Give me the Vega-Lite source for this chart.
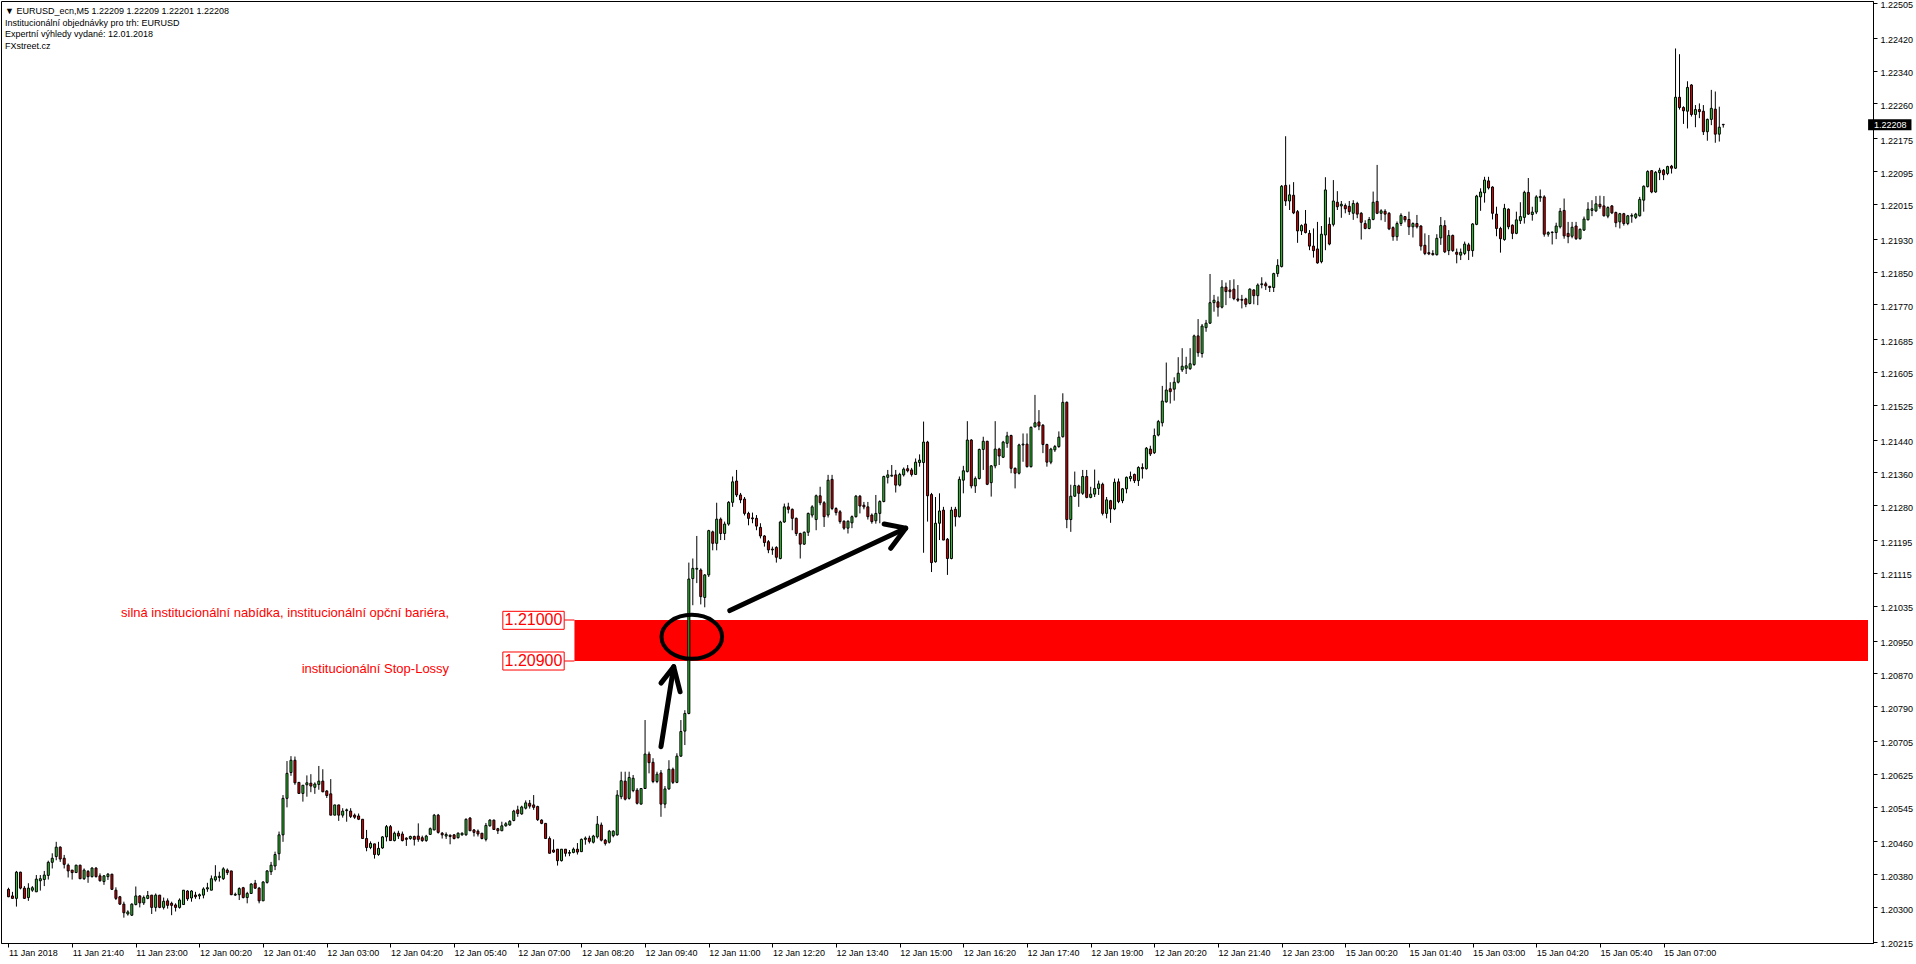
{
"$schema": "https://vega.github.io/schema/vega-lite/v6.json",
"width": 1872,
"height": 942,
"autosize": {"type": "none"},
"padding": {"left": 1, "top": 1, "right": 43, "bottom": 21},
"background": "white",
"title": {"text": ["▼ EURUSD_ecn,M5  1.22209 1.22209 1.22201 1.22208", "Institucionální objednávky pro trh: EURUSD", "Expertní výhledy vydané: 12.01.2018", "FXstreet.cz"], "anchor": "start", "frame": "group", "orient": "top", "baseline": "top", "offset": -50, "dx": 4, "fontSize": 9, "fontWeight": "normal", "font": "Liberation Sans", "color": "black", "lineHeight": 11.7},
"config": {"view": {"stroke": "black", "strokeWidth": 1}, "font": "Liberation Sans", "axis": {"labelOverlap": false, "labelFlush": false, "labelBound": false, "grid": false}},
"datasets": {
"bars": [
{"n":0,"o":1.20343,"h":1.20347,"l":1.20324,"c":1.20325},
{"n":1,"o":1.20327,"h":1.20337,"l":1.20321,"c":1.20321},
{"n":2,"o":1.20321,"h":1.20388,"l":1.20301,"c":1.20385},
{"n":3,"o":1.20385,"h":1.20386,"l":1.20343,"c":1.20346},
{"n":4,"o":1.20346,"h":1.20351,"l":1.20320,"c":1.20321},
{"n":5,"o":1.20323,"h":1.20358,"l":1.20315,"c":1.20346},
{"n":6,"o":1.20341,"h":1.20351,"l":1.20337,"c":1.20347},
{"n":7,"o":1.20337,"h":1.20378,"l":1.20337,"c":1.20368},
{"n":8,"o":1.20364,"h":1.20378,"l":1.20340,"c":1.20369},
{"n":9,"o":1.20367,"h":1.20388,"l":1.20351,"c":1.20378},
{"n":10,"o":1.20377,"h":1.20413,"l":1.20367,"c":1.20409},
{"n":11,"o":1.20409,"h":1.20431,"l":1.20394,"c":1.20419},
{"n":12,"o":1.20423,"h":1.20459,"l":1.20414,"c":1.20446},
{"n":13,"o":1.20446,"h":1.20448,"l":1.20410,"c":1.20417},
{"n":14,"o":1.20419,"h":1.20427,"l":1.20394,"c":1.20404},
{"n":15,"o":1.20402,"h":1.20406,"l":1.20372,"c":1.20388},
{"n":16,"o":1.20390,"h":1.20390,"l":1.20367,"c":1.20384},
{"n":17,"o":1.20384,"h":1.20403,"l":1.20383,"c":1.20402},
{"n":18,"o":1.20402,"h":1.20403,"l":1.20368,"c":1.20369},
{"n":19,"o":1.20369,"h":1.20394,"l":1.20366,"c":1.20390},
{"n":20,"o":1.20387,"h":1.20390,"l":1.20359,"c":1.20374},
{"n":21,"o":1.20374,"h":1.20397,"l":1.20372,"c":1.20395},
{"n":22,"o":1.20395,"h":1.20397,"l":1.20372,"c":1.20374},
{"n":23,"o":1.20376,"h":1.20382,"l":1.20362,"c":1.20364},
{"n":24,"o":1.20362,"h":1.20378,"l":1.20354,"c":1.20376},
{"n":25,"o":1.20374,"h":1.20383,"l":1.20366,"c":1.20380},
{"n":26,"o":1.20380,"h":1.20381,"l":1.20342,"c":1.20343},
{"n":27,"o":1.20341,"h":1.20348,"l":1.20317,"c":1.20321},
{"n":28,"o":1.20325,"h":1.20327,"l":1.20305,"c":1.20307},
{"n":29,"o":1.20307,"h":1.20313,"l":1.20274,"c":1.20286},
{"n":30,"o":1.20283,"h":1.20292,"l":1.20279,"c":1.20288},
{"n":31,"o":1.20280,"h":1.20309,"l":1.20278,"c":1.20307},
{"n":32,"o":1.20306,"h":1.20350,"l":1.20304,"c":1.20327},
{"n":33,"o":1.20327,"h":1.20329,"l":1.20299,"c":1.20310},
{"n":34,"o":1.20310,"h":1.20328,"l":1.20305,"c":1.20323},
{"n":35,"o":1.20321,"h":1.20339,"l":1.20319,"c":1.20328},
{"n":36,"o":1.20329,"h":1.20329,"l":1.20283,"c":1.20299},
{"n":37,"o":1.20299,"h":1.20333,"l":1.20289,"c":1.20329},
{"n":38,"o":1.20329,"h":1.20329,"l":1.20297,"c":1.20299},
{"n":39,"o":1.20299,"h":1.20323,"l":1.20294,"c":1.20314},
{"n":40,"o":1.20315,"h":1.20321,"l":1.20296,"c":1.20304},
{"n":41,"o":1.20309,"h":1.20313,"l":1.20280,"c":1.20304},
{"n":42,"o":1.20305,"h":1.20309,"l":1.20289,"c":1.20299},
{"n":43,"o":1.20299,"h":1.20321,"l":1.20296,"c":1.20317},
{"n":44,"o":1.20306,"h":1.20341,"l":1.20305,"c":1.20341},
{"n":45,"o":1.20339,"h":1.20341,"l":1.20315,"c":1.20320},
{"n":46,"o":1.20322,"h":1.20341,"l":1.20313,"c":1.20339},
{"n":47,"o":1.20329,"h":1.20337,"l":1.20320,"c":1.20325},
{"n":48,"o":1.20327,"h":1.20333,"l":1.20319,"c":1.20330},
{"n":49,"o":1.20329,"h":1.20348,"l":1.20321,"c":1.20344},
{"n":50,"o":1.20344,"h":1.20359,"l":1.20337,"c":1.20347},
{"n":51,"o":1.20341,"h":1.20377,"l":1.20341,"c":1.20369},
{"n":52,"o":1.20366,"h":1.20402,"l":1.20362,"c":1.20374},
{"n":53,"o":1.20372,"h":1.20386,"l":1.20362,"c":1.20375},
{"n":54,"o":1.20369,"h":1.20397,"l":1.20366,"c":1.20393},
{"n":55,"o":1.20390,"h":1.20394,"l":1.20378,"c":1.20384},
{"n":56,"o":1.20388,"h":1.20388,"l":1.20329,"c":1.20330},
{"n":57,"o":1.20329,"h":1.20335,"l":1.20327,"c":1.20331},
{"n":58,"o":1.20330,"h":1.20348,"l":1.20317,"c":1.20345},
{"n":59,"o":1.20347,"h":1.20349,"l":1.20321,"c":1.20323},
{"n":60,"o":1.20323,"h":1.20337,"l":1.20309,"c":1.20333},
{"n":61,"o":1.20333,"h":1.20358,"l":1.20333,"c":1.20356},
{"n":62,"o":1.20358,"h":1.20366,"l":1.20344,"c":1.20346},
{"n":63,"o":1.20346,"h":1.20349,"l":1.20309,"c":1.20315},
{"n":64,"o":1.20315,"h":1.20363,"l":1.20315,"c":1.20361},
{"n":65,"o":1.20360,"h":1.20390,"l":1.20357,"c":1.20388},
{"n":66,"o":1.20386,"h":1.20410,"l":1.20378,"c":1.20402},
{"n":67,"o":1.20400,"h":1.20435,"l":1.20390,"c":1.20428},
{"n":68,"o":1.20430,"h":1.20484,"l":1.20414,"c":1.20476},
{"n":69,"o":1.20476,"h":1.20573,"l":1.20459,"c":1.20565},
{"n":70,"o":1.20565,"h":1.20656,"l":1.20543,"c":1.20626},
{"n":71,"o":1.20628,"h":1.20668,"l":1.20620,"c":1.20658},
{"n":72,"o":1.20658,"h":1.20667,"l":1.20598,"c":1.20603},
{"n":73,"o":1.20604,"h":1.20604,"l":1.20577,"c":1.20577},
{"n":74,"o":1.20577,"h":1.20597,"l":1.20557,"c":1.20597},
{"n":75,"o":1.20598,"h":1.20621,"l":1.20569,"c":1.20603},
{"n":76,"o":1.20602,"h":1.20624,"l":1.20580,"c":1.20595},
{"n":77,"o":1.20592,"h":1.20604,"l":1.20576,"c":1.20600},
{"n":78,"o":1.20599,"h":1.20644,"l":1.20586,"c":1.20607},
{"n":79,"o":1.20607,"h":1.20636,"l":1.20580,"c":1.20581},
{"n":80,"o":1.20583,"h":1.20585,"l":1.20566,"c":1.20572},
{"n":81,"o":1.20576,"h":1.20612,"l":1.20524,"c":1.20524},
{"n":82,"o":1.20524,"h":1.20549,"l":1.20524,"c":1.20549},
{"n":83,"o":1.20549,"h":1.20549,"l":1.20510,"c":1.20524},
{"n":84,"o":1.20524,"h":1.20541,"l":1.20518,"c":1.20534},
{"n":85,"o":1.20535,"h":1.20540,"l":1.20508,"c":1.20537},
{"n":86,"o":1.20534,"h":1.20541,"l":1.20517,"c":1.20521},
{"n":87,"o":1.20524,"h":1.20528,"l":1.20515,"c":1.20519},
{"n":88,"o":1.20522,"h":1.20528,"l":1.20512,"c":1.20514},
{"n":89,"o":1.20514,"h":1.20514,"l":1.20467,"c":1.20467},
{"n":90,"o":1.20467,"h":1.20488,"l":1.20436,"c":1.20445},
{"n":91,"o":1.20445,"h":1.20460,"l":1.20441,"c":1.20455},
{"n":92,"o":1.20454,"h":1.20454,"l":1.20418,"c":1.20428},
{"n":93,"o":1.20428,"h":1.20459,"l":1.20425,"c":1.20443},
{"n":94,"o":1.20444,"h":1.20473,"l":1.20442,"c":1.20471},
{"n":95,"o":1.20471,"h":1.20500,"l":1.20460,"c":1.20496},
{"n":96,"o":1.20496,"h":1.20500,"l":1.20462,"c":1.20462},
{"n":97,"o":1.20462,"h":1.20484,"l":1.20460,"c":1.20480},
{"n":98,"o":1.20480,"h":1.20486,"l":1.20466,"c":1.20473},
{"n":99,"o":1.20478,"h":1.20484,"l":1.20460,"c":1.20462},
{"n":100,"o":1.20468,"h":1.20470,"l":1.20449,"c":1.20465},
{"n":101,"o":1.20467,"h":1.20474,"l":1.20464,"c":1.20472},
{"n":102,"o":1.20472,"h":1.20474,"l":1.20450,"c":1.20465},
{"n":103,"o":1.20473,"h":1.20504,"l":1.20459,"c":1.20465},
{"n":104,"o":1.20469,"h":1.20474,"l":1.20459,"c":1.20462},
{"n":105,"o":1.20462,"h":1.20476,"l":1.20459,"c":1.20473},
{"n":106,"o":1.20477,"h":1.20494,"l":1.20477,"c":1.20491},
{"n":107,"o":1.20488,"h":1.20527,"l":1.20487,"c":1.20524},
{"n":108,"o":1.20524,"h":1.20527,"l":1.20479,"c":1.20482},
{"n":109,"o":1.20480,"h":1.20483,"l":1.20467,"c":1.20476},
{"n":110,"o":1.20473,"h":1.20482,"l":1.20466,"c":1.20477},
{"n":111,"o":1.20475,"h":1.20477,"l":1.20453,"c":1.20472},
{"n":112,"o":1.20476,"h":1.20478,"l":1.20465,"c":1.20467},
{"n":113,"o":1.20469,"h":1.20482,"l":1.20467,"c":1.20480},
{"n":114,"o":1.20476,"h":1.20482,"l":1.20474,"c":1.20480},
{"n":115,"o":1.20476,"h":1.20516,"l":1.20474,"c":1.20514},
{"n":116,"o":1.20517,"h":1.20519,"l":1.20486,"c":1.20486},
{"n":117,"o":1.20488,"h":1.20490,"l":1.20472,"c":1.20482},
{"n":118,"o":1.20485,"h":1.20489,"l":1.20472,"c":1.20478},
{"n":119,"o":1.20480,"h":1.20480,"l":1.20465,"c":1.20467},
{"n":120,"o":1.20465,"h":1.20505,"l":1.20460,"c":1.20499},
{"n":121,"o":1.20498,"h":1.20514,"l":1.20496,"c":1.20512},
{"n":122,"o":1.20512,"h":1.20513,"l":1.20489,"c":1.20489},
{"n":123,"o":1.20491,"h":1.20493,"l":1.20478,"c":1.20486},
{"n":124,"o":1.20486,"h":1.20508,"l":1.20485,"c":1.20498},
{"n":125,"o":1.20498,"h":1.20507,"l":1.20496,"c":1.20503},
{"n":126,"o":1.20500,"h":1.20512,"l":1.20498,"c":1.20509},
{"n":127,"o":1.20511,"h":1.20537,"l":1.20509,"c":1.20534},
{"n":128,"o":1.20537,"h":1.20547,"l":1.20520,"c":1.20528},
{"n":129,"o":1.20527,"h":1.20547,"l":1.20525,"c":1.20544},
{"n":130,"o":1.20541,"h":1.20560,"l":1.20538,"c":1.20554},
{"n":131,"o":1.20553,"h":1.20561,"l":1.20540,"c":1.20546},
{"n":132,"o":1.20549,"h":1.20573,"l":1.20537,"c":1.20543},
{"n":133,"o":1.20545,"h":1.20547,"l":1.20510,"c":1.20513},
{"n":134,"o":1.20512,"h":1.20514,"l":1.20502,"c":1.20504},
{"n":135,"o":1.20504,"h":1.20504,"l":1.20467,"c":1.20467},
{"n":136,"o":1.20467,"h":1.20472,"l":1.20431,"c":1.20431},
{"n":137,"o":1.20439,"h":1.20465,"l":1.20432,"c":1.20434},
{"n":138,"o":1.20441,"h":1.20441,"l":1.20401,"c":1.20413},
{"n":139,"o":1.20413,"h":1.20441,"l":1.20411,"c":1.20441},
{"n":140,"o":1.20441,"h":1.20441,"l":1.20423,"c":1.20431},
{"n":141,"o":1.20431,"h":1.20439,"l":1.20424,"c":1.20433},
{"n":142,"o":1.20433,"h":1.20445,"l":1.20431,"c":1.20441},
{"n":143,"o":1.20441,"h":1.20456,"l":1.20428,"c":1.20434},
{"n":144,"o":1.20435,"h":1.20467,"l":1.20434,"c":1.20465},
{"n":145,"o":1.20465,"h":1.20472,"l":1.20452,"c":1.20468},
{"n":146,"o":1.20468,"h":1.20474,"l":1.20455,"c":1.20460},
{"n":147,"o":1.20458,"h":1.20476,"l":1.20455,"c":1.20473},
{"n":148,"o":1.20471,"h":1.20522,"l":1.20467,"c":1.20502},
{"n":149,"o":1.20500,"h":1.20506,"l":1.20460,"c":1.20463},
{"n":150,"o":1.20463,"h":1.20466,"l":1.20450,"c":1.20455},
{"n":151,"o":1.20458,"h":1.20488,"l":1.20455,"c":1.20485},
{"n":152,"o":1.20474,"h":1.20487,"l":1.20470,"c":1.20485},
{"n":153,"o":1.20476,"h":1.20585,"l":1.20474,"c":1.20573},
{"n":154,"o":1.20569,"h":1.20630,"l":1.20563,"c":1.20608},
{"n":155,"o":1.20607,"h":1.20630,"l":1.20560,"c":1.20563},
{"n":156,"o":1.20565,"h":1.20630,"l":1.20562,"c":1.20616},
{"n":157,"o":1.20584,"h":1.20622,"l":1.20580,"c":1.20614},
{"n":158,"o":1.20585,"h":1.20590,"l":1.20550,"c":1.20553},
{"n":159,"o":1.20551,"h":1.20590,"l":1.20550,"c":1.20589},
{"n":160,"o":1.20589,"h":1.20756,"l":1.20588,"c":1.20673},
{"n":161,"o":1.20673,"h":1.20679,"l":1.20626,"c":1.20652},
{"n":162,"o":1.20653,"h":1.20663,"l":1.20602,"c":1.20606},
{"n":163,"o":1.20606,"h":1.20630,"l":1.20602,"c":1.20624},
{"n":164,"o":1.20627,"h":1.20634,"l":1.20520,"c":1.20551},
{"n":165,"o":1.20551,"h":1.20595,"l":1.20541,"c":1.20588},
{"n":166,"o":1.20588,"h":1.20658,"l":1.20586,"c":1.20636},
{"n":167,"o":1.20636,"h":1.20640,"l":1.20600,"c":1.20604},
{"n":168,"o":1.20604,"h":1.20675,"l":1.20602,"c":1.20668},
{"n":169,"o":1.20668,"h":1.20756,"l":1.20666,"c":1.20728},
{"n":170,"o":1.20729,"h":1.20780,"l":1.20695,"c":1.20772},
{"n":171,"o":1.20772,"h":1.21140,"l":1.20770,"c":1.21100},
{"n":172,"o":1.21101,"h":1.21150,"l":1.21036,"c":1.21126},
{"n":173,"o":1.21124,"h":1.21205,"l":1.21090,"c":1.21126},
{"n":174,"o":1.21122,"h":1.21126,"l":1.21038,"c":1.21057},
{"n":175,"o":1.21055,"h":1.21112,"l":1.21031,"c":1.21110},
{"n":176,"o":1.21110,"h":1.21220,"l":1.21105,"c":1.21218},
{"n":177,"o":1.21215,"h":1.21218,"l":1.21170,"c":1.21187},
{"n":178,"o":1.21187,"h":1.21286,"l":1.21170,"c":1.21246},
{"n":179,"o":1.21246,"h":1.21250,"l":1.21195,"c":1.21211},
{"n":180,"o":1.21211,"h":1.21240,"l":1.21195,"c":1.21234},
{"n":181,"o":1.21234,"h":1.21290,"l":1.21230,"c":1.21287},
{"n":182,"o":1.21287,"h":1.21350,"l":1.21276,"c":1.21337},
{"n":183,"o":1.21339,"h":1.21366,"l":1.21300,"c":1.21305},
{"n":184,"o":1.21305,"h":1.21310,"l":1.21285,"c":1.21293},
{"n":185,"o":1.21295,"h":1.21300,"l":1.21255,"c":1.21260},
{"n":186,"o":1.21260,"h":1.21264,"l":1.21231,"c":1.21248},
{"n":187,"o":1.21249,"h":1.21262,"l":1.21236,"c":1.21247},
{"n":188,"o":1.21248,"h":1.21256,"l":1.21219,"c":1.21229},
{"n":189,"o":1.21226,"h":1.21236,"l":1.21199,"c":1.21205},
{"n":190,"o":1.21205,"h":1.21207,"l":1.21179,"c":1.21189},
{"n":191,"o":1.21191,"h":1.21195,"l":1.21163,"c":1.21171},
{"n":192,"o":1.21173,"h":1.21179,"l":1.21159,"c":1.21171},
{"n":193,"o":1.21177,"h":1.21180,"l":1.21140,"c":1.21153},
{"n":194,"o":1.21150,"h":1.21242,"l":1.21148,"c":1.21239},
{"n":195,"o":1.21239,"h":1.21284,"l":1.21237,"c":1.21276},
{"n":196,"o":1.21276,"h":1.21286,"l":1.21260,"c":1.21270},
{"n":197,"o":1.21270,"h":1.21272,"l":1.21219,"c":1.21248},
{"n":198,"o":1.21248,"h":1.21250,"l":1.21205,"c":1.21211},
{"n":199,"o":1.21211,"h":1.21213,"l":1.21150,"c":1.21185},
{"n":200,"o":1.21185,"h":1.21216,"l":1.21183,"c":1.21214},
{"n":201,"o":1.21214,"h":1.21262,"l":1.21205,"c":1.21260},
{"n":202,"o":1.21256,"h":1.21280,"l":1.21250,"c":1.21276},
{"n":203,"o":1.21245,"h":1.21306,"l":1.21219,"c":1.21303},
{"n":204,"o":1.21303,"h":1.21325,"l":1.21280,"c":1.21286},
{"n":205,"o":1.21286,"h":1.21290,"l":1.21227,"c":1.21252},
{"n":206,"o":1.21256,"h":1.21354,"l":1.21250,"c":1.21341},
{"n":207,"o":1.21343,"h":1.21354,"l":1.21268,"c":1.21272},
{"n":208,"o":1.21272,"h":1.21275,"l":1.21255,"c":1.21262},
{"n":209,"o":1.21264,"h":1.21268,"l":1.21235,"c":1.21240},
{"n":210,"o":1.21241,"h":1.21243,"l":1.21220,"c":1.21224},
{"n":211,"o":1.21224,"h":1.21243,"l":1.21211,"c":1.21241},
{"n":212,"o":1.21237,"h":1.21255,"l":1.21224,"c":1.21252},
{"n":213,"o":1.21252,"h":1.21305,"l":1.21250,"c":1.21302},
{"n":214,"o":1.21302,"h":1.21305,"l":1.21260,"c":1.21278},
{"n":215,"o":1.21280,"h":1.21288,"l":1.21270,"c":1.21276},
{"n":216,"o":1.21276,"h":1.21288,"l":1.21245,"c":1.21252},
{"n":217,"o":1.21256,"h":1.21260,"l":1.21235,"c":1.21240},
{"n":218,"o":1.21242,"h":1.21305,"l":1.21235,"c":1.21260},
{"n":219,"o":1.21260,"h":1.21292,"l":1.21236,"c":1.21289},
{"n":220,"o":1.21289,"h":1.21352,"l":1.21287,"c":1.21350},
{"n":221,"o":1.21348,"h":1.21366,"l":1.21333,"c":1.21354},
{"n":222,"o":1.21351,"h":1.21378,"l":1.21350,"c":1.21353},
{"n":223,"o":1.21354,"h":1.21366,"l":1.21311,"c":1.21329},
{"n":224,"o":1.21329,"h":1.21359,"l":1.21326,"c":1.21355},
{"n":225,"o":1.21354,"h":1.21372,"l":1.21350,"c":1.21368},
{"n":226,"o":1.21369,"h":1.21378,"l":1.21360,"c":1.21364},
{"n":227,"o":1.21366,"h":1.21371,"l":1.21350,"c":1.21355},
{"n":228,"o":1.21355,"h":1.21394,"l":1.21355,"c":1.21385},
{"n":229,"o":1.21384,"h":1.21404,"l":1.21374,"c":1.21390},
{"n":230,"o":1.21384,"h":1.21484,"l":1.21164,"c":1.21434},
{"n":231,"o":1.21434,"h":1.21437,"l":1.21240,"c":1.21303},
{"n":232,"o":1.21306,"h":1.21310,"l":1.21117,"c":1.21140},
{"n":233,"o":1.21142,"h":1.21300,"l":1.21140,"c":1.21236},
{"n":234,"o":1.21236,"h":1.21309,"l":1.21195,"c":1.21266},
{"n":235,"o":1.21268,"h":1.21276,"l":1.21195,"c":1.21195},
{"n":236,"o":1.21197,"h":1.21200,"l":1.21110,"c":1.21150},
{"n":237,"o":1.21150,"h":1.21276,"l":1.21148,"c":1.21268},
{"n":238,"o":1.21270,"h":1.21276,"l":1.21228,"c":1.21252},
{"n":239,"o":1.21252,"h":1.21350,"l":1.21250,"c":1.21343},
{"n":240,"o":1.21341,"h":1.21376,"l":1.21309,"c":1.21364},
{"n":241,"o":1.21362,"h":1.21485,"l":1.21360,"c":1.21439},
{"n":242,"o":1.21439,"h":1.21441,"l":1.21321,"c":1.21327},
{"n":243,"o":1.21327,"h":1.21350,"l":1.21310,"c":1.21345},
{"n":244,"o":1.21345,"h":1.21418,"l":1.21343,"c":1.21416},
{"n":245,"o":1.21416,"h":1.21447,"l":1.21366,"c":1.21436},
{"n":246,"o":1.21436,"h":1.21437,"l":1.21329,"c":1.21331},
{"n":247,"o":1.21335,"h":1.21378,"l":1.21301,"c":1.21376},
{"n":248,"o":1.21376,"h":1.21485,"l":1.21370,"c":1.21417},
{"n":249,"o":1.21417,"h":1.21420,"l":1.21378,"c":1.21400},
{"n":250,"o":1.21397,"h":1.21437,"l":1.21395,"c":1.21434},
{"n":251,"o":1.21431,"h":1.21459,"l":1.21420,"c":1.21449},
{"n":252,"o":1.21450,"h":1.21452,"l":1.21358,"c":1.21370},
{"n":253,"o":1.21370,"h":1.21372,"l":1.21321,"c":1.21358},
{"n":254,"o":1.21358,"h":1.21430,"l":1.21355,"c":1.21427},
{"n":255,"o":1.21427,"h":1.21455,"l":1.21386,"c":1.21429},
{"n":256,"o":1.21429,"h":1.21455,"l":1.21372,"c":1.21374},
{"n":257,"o":1.21374,"h":1.21472,"l":1.21372,"c":1.21470},
{"n":258,"o":1.21471,"h":1.21549,"l":1.21470,"c":1.21481},
{"n":259,"o":1.21483,"h":1.21512,"l":1.21463,"c":1.21473},
{"n":260,"o":1.21475,"h":1.21478,"l":1.21407,"c":1.21428},
{"n":261,"o":1.21428,"h":1.21430,"l":1.21374,"c":1.21385},
{"n":262,"o":1.21385,"h":1.21420,"l":1.21380,"c":1.21417},
{"n":263,"o":1.21415,"h":1.21427,"l":1.21410,"c":1.21423},
{"n":264,"o":1.21423,"h":1.21460,"l":1.21420,"c":1.21446},
{"n":265,"o":1.21447,"h":1.21553,"l":1.21445,"c":1.21531},
{"n":266,"o":1.21531,"h":1.21533,"l":1.21224,"c":1.21245},
{"n":267,"o":1.21245,"h":1.21330,"l":1.21215,"c":1.21302},
{"n":268,"o":1.21302,"h":1.21362,"l":1.21300,"c":1.21328},
{"n":269,"o":1.21327,"h":1.21330,"l":1.21276,"c":1.21309},
{"n":270,"o":1.21309,"h":1.21366,"l":1.21305,"c":1.21350},
{"n":271,"o":1.21350,"h":1.21366,"l":1.21297,"c":1.21299},
{"n":272,"o":1.21299,"h":1.21325,"l":1.21297,"c":1.21307},
{"n":273,"o":1.21307,"h":1.21367,"l":1.21300,"c":1.21321},
{"n":274,"o":1.21321,"h":1.21340,"l":1.21305,"c":1.21332},
{"n":275,"o":1.21331,"h":1.21335,"l":1.21255,"c":1.21260},
{"n":276,"o":1.21260,"h":1.21300,"l":1.21248,"c":1.21293},
{"n":277,"o":1.21291,"h":1.21293,"l":1.21237,"c":1.21271},
{"n":278,"o":1.21271,"h":1.21345,"l":1.21268,"c":1.21336},
{"n":279,"o":1.21337,"h":1.21345,"l":1.21285,"c":1.21289},
{"n":280,"o":1.21291,"h":1.21322,"l":1.21285,"c":1.21320},
{"n":281,"o":1.21320,"h":1.21350,"l":1.21309,"c":1.21348},
{"n":282,"o":1.21345,"h":1.21362,"l":1.21338,"c":1.21350},
{"n":283,"o":1.21355,"h":1.21357,"l":1.21334,"c":1.21340},
{"n":284,"o":1.21340,"h":1.21375,"l":1.21327,"c":1.21372},
{"n":285,"o":1.21372,"h":1.21382,"l":1.21345,"c":1.21369},
{"n":286,"o":1.21369,"h":1.21422,"l":1.21367,"c":1.21419},
{"n":287,"o":1.21417,"h":1.21425,"l":1.21400,"c":1.21405},
{"n":288,"o":1.21408,"h":1.21467,"l":1.21405,"c":1.21450},
{"n":289,"o":1.21451,"h":1.21488,"l":1.21448,"c":1.21484},
{"n":290,"o":1.21481,"h":1.21571,"l":1.21472,"c":1.21534},
{"n":291,"o":1.21532,"h":1.21628,"l":1.21530,"c":1.21561},
{"n":292,"o":1.21564,"h":1.21580,"l":1.21528,"c":1.21557},
{"n":293,"o":1.21563,"h":1.21592,"l":1.21535,"c":1.21580},
{"n":294,"o":1.21580,"h":1.21641,"l":1.21577,"c":1.21602},
{"n":295,"o":1.21610,"h":1.21663,"l":1.21605,"c":1.21619},
{"n":296,"o":1.21614,"h":1.21642,"l":1.21600,"c":1.21620},
{"n":297,"o":1.21613,"h":1.21663,"l":1.21610,"c":1.21625},
{"n":298,"o":1.21623,"h":1.21696,"l":1.21620,"c":1.21693},
{"n":299,"o":1.21693,"h":1.21734,"l":1.21642,"c":1.21652},
{"n":300,"o":1.21650,"h":1.21722,"l":1.21640,"c":1.21717},
{"n":301,"o":1.21713,"h":1.21732,"l":1.21703,"c":1.21724},
{"n":302,"o":1.21724,"h":1.21844,"l":1.21722,"c":1.21774},
{"n":303,"o":1.21774,"h":1.21793,"l":1.21752,"c":1.21780},
{"n":304,"o":1.21776,"h":1.21789,"l":1.21740,"c":1.21763},
{"n":305,"o":1.21763,"h":1.21829,"l":1.21760,"c":1.21812},
{"n":306,"o":1.21812,"h":1.21823,"l":1.21768,"c":1.21801},
{"n":307,"o":1.21805,"h":1.21829,"l":1.21785,"c":1.21801},
{"n":308,"o":1.21807,"h":1.21831,"l":1.21780,"c":1.21784},
{"n":309,"o":1.21783,"h":1.21817,"l":1.21776,"c":1.21780},
{"n":310,"o":1.21782,"h":1.21793,"l":1.21760,"c":1.21780},
{"n":311,"o":1.21783,"h":1.21786,"l":1.21763,"c":1.21770},
{"n":312,"o":1.21772,"h":1.21809,"l":1.21770,"c":1.21807},
{"n":313,"o":1.21805,"h":1.21807,"l":1.21770,"c":1.21791},
{"n":314,"o":1.21791,"h":1.21821,"l":1.21768,"c":1.21817},
{"n":315,"o":1.21818,"h":1.21836,"l":1.21809,"c":1.21820},
{"n":316,"o":1.21820,"h":1.21825,"l":1.21805,"c":1.21815},
{"n":317,"o":1.21814,"h":1.21814,"l":1.21800,"c":1.21811},
{"n":318,"o":1.21811,"h":1.21847,"l":1.21800,"c":1.21845},
{"n":319,"o":1.21845,"h":1.21880,"l":1.21837,"c":1.21865},
{"n":320,"o":1.21862,"h":1.22061,"l":1.21860,"c":1.22058},
{"n":321,"o":1.22060,"h":1.22180,"l":1.22010,"c":1.22022},
{"n":322,"o":1.22022,"h":1.22062,"l":1.22000,"c":1.22037},
{"n":323,"o":1.22036,"h":1.22068,"l":1.21990,"c":1.21993},
{"n":324,"o":1.21996,"h":1.22000,"l":1.21920,"c":1.21949},
{"n":325,"o":1.21949,"h":1.21965,"l":1.21939,"c":1.21962},
{"n":326,"o":1.21966,"h":1.22000,"l":1.21943,"c":1.21945},
{"n":327,"o":1.21943,"h":1.21951,"l":1.21902,"c":1.21912},
{"n":328,"o":1.21912,"h":1.21955,"l":1.21884,"c":1.21901},
{"n":329,"o":1.21905,"h":1.21971,"l":1.21869,"c":1.21871},
{"n":330,"o":1.21874,"h":1.21961,"l":1.21870,"c":1.21941},
{"n":331,"o":1.21939,"h":1.22080,"l":1.21902,"c":1.22049},
{"n":332,"o":1.21965,"h":1.21982,"l":1.21914,"c":1.21917},
{"n":333,"o":1.21965,"h":1.22073,"l":1.21960,"c":1.22022},
{"n":334,"o":1.22019,"h":1.22046,"l":1.22000,"c":1.22008},
{"n":335,"o":1.22010,"h":1.22022,"l":1.21981,"c":1.22014},
{"n":336,"o":1.22011,"h":1.22016,"l":1.21992,"c":1.22003},
{"n":337,"o":1.22009,"h":1.22022,"l":1.21988,"c":1.21996},
{"n":338,"o":1.21992,"h":1.22024,"l":1.21976,"c":1.22016},
{"n":339,"o":1.22016,"h":1.22020,"l":1.21980,"c":1.21990},
{"n":340,"o":1.21992,"h":1.21995,"l":1.21928,"c":1.21970},
{"n":341,"o":1.21967,"h":1.21975,"l":1.21953,"c":1.21955},
{"n":342,"o":1.21955,"h":1.21983,"l":1.21953,"c":1.21977},
{"n":343,"o":1.21977,"h":1.22045,"l":1.21975,"c":1.22019},
{"n":344,"o":1.22021,"h":1.22110,"l":1.21990,"c":1.21992},
{"n":345,"o":1.21992,"h":1.22002,"l":1.21975,"c":1.21998},
{"n":346,"o":1.21997,"h":1.22002,"l":1.21971,"c":1.21990},
{"n":347,"o":1.21992,"h":1.21995,"l":1.21951,"c":1.21954},
{"n":348,"o":1.21957,"h":1.21960,"l":1.21925,"c":1.21935},
{"n":349,"o":1.21935,"h":1.21972,"l":1.21925,"c":1.21967},
{"n":350,"o":1.21967,"h":1.21992,"l":1.21961,"c":1.21987},
{"n":351,"o":1.21984,"h":1.21985,"l":1.21970,"c":1.21976},
{"n":352,"o":1.21977,"h":1.21996,"l":1.21939,"c":1.21959},
{"n":353,"o":1.21959,"h":1.21970,"l":1.21933,"c":1.21967},
{"n":354,"o":1.21967,"h":1.21988,"l":1.21955,"c":1.21959},
{"n":355,"o":1.21961,"h":1.21963,"l":1.21901,"c":1.21912},
{"n":356,"o":1.21914,"h":1.21943,"l":1.21890,"c":1.21894},
{"n":357,"o":1.21896,"h":1.21939,"l":1.21890,"c":1.21893},
{"n":358,"o":1.21894,"h":1.21902,"l":1.21889,"c":1.21891},
{"n":359,"o":1.21891,"h":1.21941,"l":1.21889,"c":1.21931},
{"n":360,"o":1.21932,"h":1.21983,"l":1.21915,"c":1.21962},
{"n":361,"o":1.21962,"h":1.21975,"l":1.21895,"c":1.21898},
{"n":362,"o":1.21901,"h":1.21951,"l":1.21890,"c":1.21938},
{"n":363,"o":1.21938,"h":1.21940,"l":1.21898,"c":1.21901},
{"n":364,"o":1.21897,"h":1.21906,"l":1.21870,"c":1.21892},
{"n":365,"o":1.21890,"h":1.21906,"l":1.21878,"c":1.21897},
{"n":366,"o":1.21894,"h":1.21923,"l":1.21890,"c":1.21917},
{"n":367,"o":1.21915,"h":1.21920,"l":1.21878,"c":1.21901},
{"n":368,"o":1.21901,"h":1.21968,"l":1.21886,"c":1.21966},
{"n":369,"o":1.21965,"h":1.22037,"l":1.21963,"c":1.22034},
{"n":370,"o":1.22032,"h":1.22053,"l":1.21998,"c":1.22044},
{"n":371,"o":1.22042,"h":1.22081,"l":1.22018,"c":1.22073},
{"n":372,"o":1.22071,"h":1.22081,"l":1.22050,"c":1.22054},
{"n":373,"o":1.22056,"h":1.22058,"l":1.21977,"c":1.21992},
{"n":374,"o":1.21990,"h":1.22008,"l":1.21936,"c":1.21955},
{"n":375,"o":1.21955,"h":1.21959,"l":1.21896,"c":1.21930},
{"n":376,"o":1.21928,"h":1.22015,"l":1.21925,"c":1.22004},
{"n":377,"o":1.22002,"h":1.22004,"l":1.21953,"c":1.21959},
{"n":378,"o":1.21963,"h":1.21965,"l":1.21929,"c":1.21943},
{"n":379,"o":1.21943,"h":1.21996,"l":1.21941,"c":1.21976},
{"n":380,"o":1.21974,"h":1.22019,"l":1.21966,"c":1.21984},
{"n":381,"o":1.21982,"h":1.22047,"l":1.21967,"c":1.22043},
{"n":382,"o":1.22043,"h":1.22078,"l":1.21988,"c":1.21990},
{"n":383,"o":1.21989,"h":1.22008,"l":1.21974,"c":1.21995},
{"n":384,"o":1.21995,"h":1.22036,"l":1.21990,"c":1.22032},
{"n":385,"o":1.22030,"h":1.22050,"l":1.22020,"c":1.22033},
{"n":386,"o":1.22032,"h":1.22036,"l":1.21935,"c":1.21941},
{"n":387,"o":1.21941,"h":1.21948,"l":1.21935,"c":1.21945},
{"n":388,"o":1.21946,"h":1.21948,"l":1.21916,"c":1.21945},
{"n":389,"o":1.21945,"h":1.21969,"l":1.21929,"c":1.21961},
{"n":390,"o":1.21959,"h":1.22005,"l":1.21955,"c":1.21997},
{"n":391,"o":1.21999,"h":1.22028,"l":1.21930,"c":1.21937},
{"n":392,"o":1.21943,"h":1.21971,"l":1.21919,"c":1.21935},
{"n":393,"o":1.21936,"h":1.21971,"l":1.21931,"c":1.21958},
{"n":394,"o":1.21961,"h":1.21971,"l":1.21927,"c":1.21930},
{"n":395,"o":1.21930,"h":1.21955,"l":1.21928,"c":1.21953},
{"n":396,"o":1.21951,"h":1.21984,"l":1.21949,"c":1.21978},
{"n":397,"o":1.21976,"h":1.22019,"l":1.21975,"c":1.22002},
{"n":398,"o":1.21999,"h":1.22024,"l":1.21985,"c":1.22003},
{"n":399,"o":1.21998,"h":1.22034,"l":1.21995,"c":1.22015},
{"n":400,"o":1.22014,"h":1.22035,"l":1.22003,"c":1.22008},
{"n":401,"o":1.22010,"h":1.22034,"l":1.21984,"c":1.21986},
{"n":402,"o":1.21985,"h":1.22009,"l":1.21980,"c":1.22006},
{"n":403,"o":1.22010,"h":1.22012,"l":1.21990,"c":1.21993},
{"n":404,"o":1.21994,"h":1.21996,"l":1.21958,"c":1.21969},
{"n":405,"o":1.21971,"h":1.21993,"l":1.21955,"c":1.21991},
{"n":406,"o":1.21991,"h":1.21993,"l":1.21962,"c":1.21967},
{"n":407,"o":1.21967,"h":1.21988,"l":1.21963,"c":1.21986},
{"n":408,"o":1.21985,"h":1.21992,"l":1.21969,"c":1.21987},
{"n":409,"o":1.21982,"h":1.21993,"l":1.21978,"c":1.21990},
{"n":410,"o":1.21986,"h":1.22032,"l":1.21984,"c":1.22026},
{"n":411,"o":1.22024,"h":1.22060,"l":1.21996,"c":1.22058},
{"n":412,"o":1.22057,"h":1.22097,"l":1.22055,"c":1.22094},
{"n":413,"o":1.22096,"h":1.22097,"l":1.22041,"c":1.22044},
{"n":414,"o":1.22044,"h":1.22095,"l":1.22042,"c":1.22092},
{"n":415,"o":1.22091,"h":1.22103,"l":1.22073,"c":1.22097},
{"n":416,"o":1.22097,"h":1.22100,"l":1.22073,"c":1.22086},
{"n":417,"o":1.22089,"h":1.22108,"l":1.22085,"c":1.22106},
{"n":418,"o":1.22107,"h":1.22110,"l":1.22089,"c":1.22102},
{"n":419,"o":1.22102,"h":1.22394,"l":1.22100,"c":1.22275},
{"n":420,"o":1.22275,"h":1.22380,"l":1.22245,"c":1.22250},
{"n":421,"o":1.22250,"h":1.22253,"l":1.22210,"c":1.22242},
{"n":422,"o":1.22241,"h":1.22314,"l":1.22199,"c":1.22299},
{"n":423,"o":1.22305,"h":1.22307,"l":1.22228,"c":1.22233},
{"n":424,"o":1.22233,"h":1.22256,"l":1.22202,"c":1.22245},
{"n":425,"o":1.22245,"h":1.22260,"l":1.22224,"c":1.22240},
{"n":426,"o":1.22241,"h":1.22256,"l":1.22183,"c":1.22191},
{"n":427,"o":1.22191,"h":1.22223,"l":1.22169,"c":1.22221},
{"n":428,"o":1.22221,"h":1.22293,"l":1.22207,"c":1.22248},
{"n":429,"o":1.22246,"h":1.22289,"l":1.22164,"c":1.22185},
{"n":430,"o":1.22185,"h":1.22252,"l":1.22167,"c":1.22202},
{"n":431,"o":1.22209,"h":1.22209,"l":1.22201,"c":1.22208}
],
"zone": [{"n": 142.25, "n2": 467.375, "p": 1.21, "p2": 1.209}],
"levels": [
 {"label": "1.21000", "p": 1.21, "top": 1.210212, "bottom": 1.209773, "n": 124.25, "n2": 139.67, "mid": 131.96, "edge": 142.25},
 {"label": "1.20900", "p": 1.209, "top": 1.20922, "bottom": 1.20878, "n": 124.25, "n2": 139.67, "mid": 131.96, "edge": 142.25}
],
"notes": [
 {"text": "silná institucionální nabídka, institucionální opční bariéra,", "n": 110.75, "p": 1.21017},
 {"text": "institucionální Stop-Lossy", "n": 110.75, "p": 1.2088}
],
"arrows": [
 {"seg": "a1s", "k": 0, "n": 164, "p": 1.20691},
 {"seg": "a1s", "k": 1, "n": 167.2, "p": 1.20886},
 {"seg": "a1h", "k": 0, "n": 164, "p": 1.20846},
 {"seg": "a1h", "k": 1, "n": 167.2, "p": 1.20886},
 {"seg": "a1h", "k": 2, "n": 168.8, "p": 1.20825},
 {"seg": "a2s", "k": 0, "n": 181.3, "p": 1.21023},
 {"seg": "a2s", "k": 1, "n": 225.5, "p": 1.21224},
 {"seg": "a2h", "k": 0, "n": 220.1, "p": 1.21234},
 {"seg": "a2h", "k": 1, "n": 225.5, "p": 1.21224},
 {"seg": "a2h", "k": 2, "n": 221.75, "p": 1.21175}
],
"circle": [{"n": 171.75, "p": 1.20959}],
"last": [{"label": "1.22208", "p": 1.22208, "top": 1.222214, "bottom": 1.221946, "n": 467.4, "n2": 478.3, "tn": 468.9}]
},
"layer": [
 {"data": {"name": "zone"}, "mark": {"type": "rect", "fill": "#ff0000"},
  "encoding": {
   "x": {"field": "n", "type": "quantitative", "title": null,
     "scale": {"domain": [-0.625, 467.375], "nice": false, "zero": false},
     "axis": {"values": [0,16,32,48,64,80,96,112,128,144,160,176,192,208,224,240,256,272,288,304,320,336,352,368,384,400,416], "tickCount": 100,
       "labelExpr": "['11 Jan 2018','11 Jan 21:40','11 Jan 23:00','12 Jan 00:20','12 Jan 01:40','12 Jan 03:00','12 Jan 04:20','12 Jan 05:40','12 Jan 07:00','12 Jan 08:20','12 Jan 09:40','12 Jan 11:00','12 Jan 12:20','12 Jan 13:40','12 Jan 15:00','12 Jan 16:20','12 Jan 17:40','12 Jan 19:00','12 Jan 20:20','12 Jan 21:40','12 Jan 23:00','15 Jan 00:20','15 Jan 01:40','15 Jan 03:00','15 Jan 04:20','15 Jan 05:40','15 Jan 07:00'][round(datum.value/16)]",
       "labelAlign": "left", "labelBaseline": "top", "labelPadding": 1, "tickSize": 4, "labelFontSize": 9, "labelColor": "black", "domainColor": "black", "tickColor": "black", "grid": false, "labelFlush": false, "labelOverlap": false, "labelBound": false, "labelFont": "Liberation Sans"}},
   "x2": {"field": "n2"},
   "y": {"field": "p", "type": "quantitative", "title": null,
     "scale": {"domain": [1.202122, 1.225098], "nice": false, "zero": false},
     "axis": {"orient": "right", "tickCount": 100, "values": [1.22505,1.2242,1.2234,1.2226,1.22175,1.22095,1.22015,1.2193,1.2185,1.2177,1.21685,1.21605,1.21525,1.2144,1.2136,1.2128,1.21195,1.21115,1.21035,1.2095,1.2087,1.2079,1.20705,1.20625,1.20545,1.2046,1.2038,1.203,1.20215],
       "format": ".5f", "tickSize": 4, "labelPadding": 3, "labelOffset": 2, "labelFontSize": 9, "labelColor": "black", "domainColor": "black", "tickColor": "black", "grid": false, "labelOverlap": false, "labelFlush": false, "labelBound": false, "labelFont": "Liberation Sans"}},
   "y2": {"field": "p2"}
  }},
 {"data": {"name": "bars"}, "mark": {"type": "rule", "color": "black", "strokeWidth": 1},
  "encoding": {"x": {"field": "n", "type": "quantitative", "title": null}, "y": {"field": "l", "type": "quantitative", "title": null}, "y2": {"field": "h"}}},
 {"data": {"name": "bars"}, "mark": {"type": "bar", "size": 2, "stroke": "black", "strokeWidth": 1},
  "encoding": {"x": {"field": "n", "type": "quantitative", "title": null}, "y": {"field": "o", "type": "quantitative", "title": null}, "y2": {"field": "c"},
   "fill": {"condition": {"test": "datum.c >= datum.o", "value": "#32cd32"}, "value": "#e00000"}}},
 {"data": {"name": "levels"}, "mark": {"type": "rule", "color": "#ff0000", "strokeWidth": 1},
  "encoding": {"x": {"field": "n2", "type": "quantitative", "title": null}, "x2": {"field": "edge"}, "y": {"field": "p", "type": "quantitative", "title": null}}},
 {"data": {"name": "levels"}, "mark": {"type": "rect", "fill": "white", "stroke": "#ff0000", "strokeWidth": 1},
  "encoding": {"x": {"field": "n", "type": "quantitative", "title": null}, "x2": {"field": "n2"}, "y": {"field": "top", "type": "quantitative", "title": null}, "y2": {"field": "bottom"}}},
 {"data": {"name": "levels"}, "mark": {"type": "text", "color": "#ff0000", "fontSize": 16, "font": "Liberation Sans", "align": "center", "baseline": "middle"},
  "encoding": {"x": {"field": "mid", "type": "quantitative", "title": null}, "y": {"field": "p", "type": "quantitative", "title": null}, "text": {"field": "label"}}},
 {"data": {"name": "notes"}, "mark": {"type": "text", "color": "#ff0000", "fontSize": 13, "font": "Liberation Sans", "align": "right", "baseline": "middle"},
  "encoding": {"x": {"field": "n", "type": "quantitative", "title": null}, "y": {"field": "p", "type": "quantitative", "title": null}, "text": {"field": "text"}}},
 {"data": {"name": "circle"}, "mark": {"type": "point", "shape": "M-1,0A1,0.726,0,1,1,1,0A1,0.726,0,1,1,-1,0Z", "size": 3672, "filled": false, "color": "black", "strokeWidth": 4, "opacity": 1},
  "encoding": {"x": {"field": "n", "type": "quantitative", "title": null}, "y": {"field": "p", "type": "quantitative", "title": null}}},
 {"data": {"name": "arrows"}, "mark": {"type": "line", "color": "black", "strokeWidth": 5, "strokeCap": "round", "strokeJoin": "round"},
  "encoding": {"x": {"field": "n", "type": "quantitative", "title": null}, "y": {"field": "p", "type": "quantitative", "title": null}, "detail": {"field": "seg"}, "order": {"field": "k"}}},
 {"data": {"name": "last"}, "mark": {"type": "rect", "fill": "black"},
  "encoding": {"x": {"field": "n", "type": "quantitative", "title": null}, "x2": {"field": "n2"}, "y": {"field": "top", "type": "quantitative", "title": null}, "y2": {"field": "bottom"}}},
 {"data": {"name": "last"}, "mark": {"type": "text", "color": "white", "fontSize": 9, "font": "Liberation Sans", "align": "left", "baseline": "middle"},
  "encoding": {"x": {"field": "tn", "type": "quantitative", "title": null}, "y": {"field": "p", "type": "quantitative", "title": null}, "text": {"field": "label"}}}
]
}
